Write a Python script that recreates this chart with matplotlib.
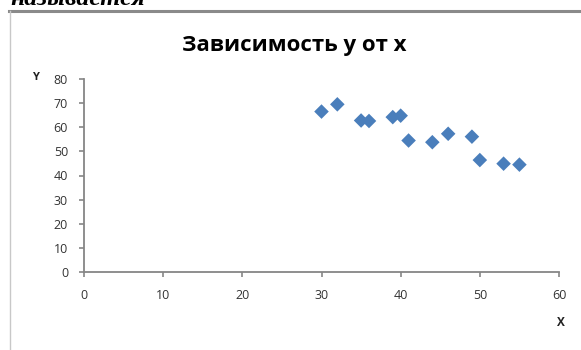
import matplotlib
matplotlib.use('Agg')
import matplotlib.pyplot as plt
from matplotlib.lines import Line2D

plt.rcParams['font.family'] = ['Open Sans', 'DejaVu Sans']

# x and y observations
x_vals = [30, 32, 35, 36, 39, 40, 41, 44, 46, 49, 50, 53, 55]
y_vals = [66.5, 69.5, 62.8, 62.6, 64.2, 64.8, 54.5, 53.8, 57.3, 56.1, 46.4, 44.9, 44.5]
x_ticks = [0, 10, 20, 30, 40, 50, 60]
y_ticks = [0, 10, 20, 30, 40, 50, 60, 70, 80]

W, H = 581, 350
fig = plt.figure(figsize=(W / 100, H / 100), dpi=100)
fig.patch.set_facecolor('white')

# frame of the chart area
fig.add_artist(Line2D([9 / W, 1], [1 - 11 / H, 1 - 11 / H], color='#8a8a8a', lw=2.2))
fig.add_artist(Line2D([9.5 / W, 9.5 / W], [0, 1 - 11 / H], color='#c8c8c8', lw=1))

# caption text from the page above, mostly cut off
fig.text(10 / W, 1 - 5 / H, 'называется', family='Liberation Serif', style='italic',
         weight='bold', fontsize=18.5, va='baseline', ha='left', color='black')

ax = fig.add_axes([84 / W, 1 - 272 / H, 475 / W, 193 / H])
ax.scatter(x_vals, y_vals, marker='D', s=55, color='#4a7ebb', edgecolors='none', zorder=3)

ax.set_xlim(0, 60)
ax.set_ylim(0, 80)
ax.set_xticks(x_ticks)
ax.set_yticks(y_ticks)
for side in ['top', 'right']:
    ax.spines[side].set_visible(False)
for side in ['left', 'bottom']:
    ax.spines[side].set_color('#868686')
    ax.spines[side].set_linewidth(1.3)
ax.tick_params(axis='both', colors='#868686', length=3.5, width=1.2, labelcolor='#333333', labelsize=9)
ax.tick_params(axis='x', pad=9)
ax.tick_params(axis='y', pad=8)
ax.set_facecolor('none')

fig.text(294 / W, 1 - 46 / H, 'Зависимость y от x', ha='center', va='center',
         fontsize=16, weight='bold', color='black')
fig.text(36 / W, 1 - 78 / H, 'Y', ha='center', va='center', fontsize=8, weight='bold', color='#222222')
fig.text(561 / W, 1 - 322 / H, 'X', ha='center', va='center', fontsize=8.5, weight='bold', color='#222222')

fig.savefig('out.png', dpi=100)
